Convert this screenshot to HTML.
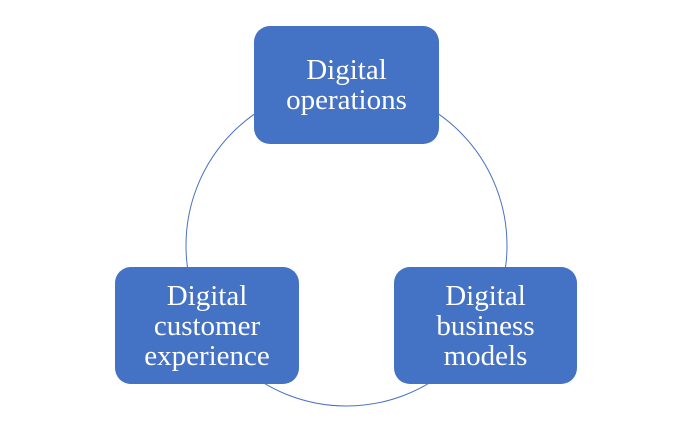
<!DOCTYPE html>
<html><head><meta charset="utf-8"><style>
html,body{margin:0;padding:0;background:#fff;}
body{width:692px;height:431px;position:relative;overflow:hidden;}
.b{position:absolute;background:#4472C4;border-radius:16px;color:#fff;font-family:"Liberation Serif",serif;font-size:29px;line-height:30px;text-align:center;display:flex;align-items:center;justify-content:center;}
svg{position:absolute;left:0;top:0;}
</style></head><body>
<svg width="692" height="431"><circle cx="346.5" cy="245.5" r="160.5" fill="none" stroke="#4A72C0" stroke-width="1"/></svg>
<div class="b" style="left:254px;top:26px;width:185px;height:118px;">Digital<br>operations</div>
<div class="b" style="left:115px;top:267px;width:184px;height:117px;">Digital<br>customer<br>experience</div>
<div class="b" style="left:394px;top:267px;width:183px;height:117px;">Digital<br>business<br>models</div>
</body></html>
